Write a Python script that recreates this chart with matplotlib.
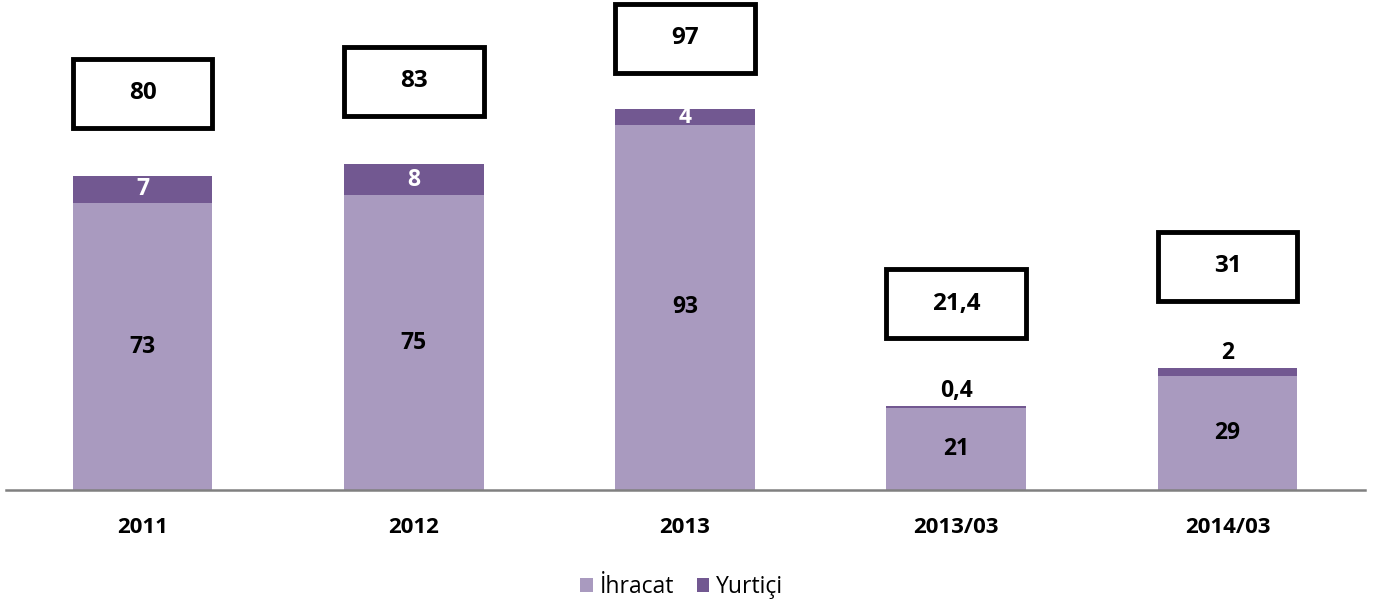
import matplotlib.pyplot as plt
from matplotlib.patches import Rectangle

plt.rcParams['font.family'] = ['Open Sans', 'DejaVu Sans']

# data
categories = ["2011", "2012", "2013", "2013/03", "2014/03"]
ihracat = [73, 75, 93, 21, 29]
yurtici = [7, 8, 4, 0.4, 2]
totals = [80, 83, 97, 21.4, 31]
ihracat_labels = ["73", "75", "93", "21", "29"]
yurtici_labels = ["7", "8", "4", "0,4", "2"]
total_labels = ["80", "83", "97", "21,4", "31"]
box_gap = [21, 21, 18, 26, 26]  # how high the total box sits above the bar

light = "#A99ABF"
dark = "#725891"

fig = plt.figure(figsize=(13.77, 6.12), dpi=100)
ax = fig.add_axes([0.004, 0.199, 0.987, 0.801])

x = range(len(categories))
w = 0.515
ax.bar(x, ihracat, width=w, color=light, label="İhracat")
ax.bar(x, yurtici, width=w, bottom=ihracat, color=dark, label="Yurtiçi")

for i in x:
    ax.text(i, ihracat[i] / 2, ihracat_labels[i], ha="center", va="center",
            fontsize=16.5, fontweight="bold", color="black")
    if yurtici[i] >= 3:
        ax.text(i, ihracat[i] + yurtici[i] / 2, yurtici_labels[i], ha="center", va="center",
                fontsize=16.5, fontweight="bold", color="white")
    else:
        ax.text(i, totals[i] + 0.8, yurtici_labels[i], ha="center", va="bottom",
                fontsize=16.5, fontweight="bold", color="black")
    # total box
    cy = totals[i] + box_gap[i]
    bh = 17.5
    ax.add_patch(Rectangle((i - w / 2, cy - bh / 2), w, bh, facecolor="white",
                           edgecolor="black", linewidth=3.5, zorder=3))
    ax.text(i, cy, total_labels[i], ha="center", va="center", fontsize=17.5,
            fontweight="bold", color="black", zorder=4)

ax.set_xlim(-0.505, 4.505)
ax.set_ylim(0, 124.7)
ax.set_xticks(list(x))
ax.set_xticklabels(categories, fontsize=16, fontweight="bold")
ax.tick_params(axis="x", length=0, pad=19)
ax.set_yticks([])
for s in ["top", "right", "left"]:
    ax.spines[s].set_visible(False)
ax.spines["bottom"].set_color("#808080")
ax.spines["bottom"].set_linewidth(1.8)

fig.legend(loc="lower center", bbox_to_anchor=(0.495, -0.012), ncol=2, frameon=False,
           fontsize=16.5, handlelength=0.55, handleheight=0.55, handletextpad=0.3,
           columnspacing=1.0)

fig.savefig("out.png", dpi=100)
